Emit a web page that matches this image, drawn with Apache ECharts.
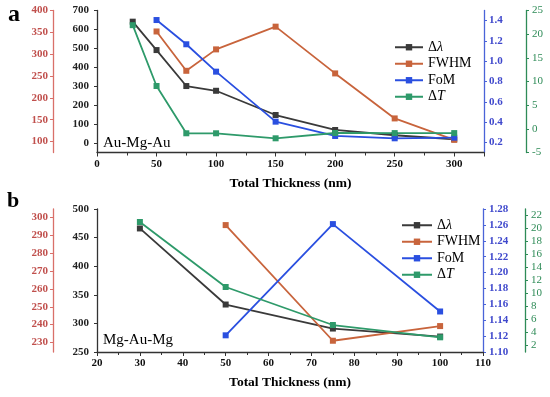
<!DOCTYPE html>
<html>
<head>
<meta charset="utf-8">
<script src="https://cdn.jsdelivr.net/npm/echarts@6/dist/echarts.min.js"></script>
<style>
html,body{margin:0;padding:0;background:#fff;}
#chart{width:550px;height:397px;}
</style>
</head>
<body>
<div id="chart"></div>
<script>
// ---- Data (panel a: Au-Mg-Au) ----
const thickA_all = [30, 50, 75, 100, 150, 200, 250, 300];
const thickA_sub = [50, 75, 100, 150, 200, 250, 300];
const dLambdaA = [641, 491, 301, 276, 148, 69, 41, 20];
const fwhmA = [352, 262, 311, 363, 256, 153, 104];
const fomA = [1.406, 1.167, 0.897, 0.404, 0.263, 0.24, 0.246];
const dTA = [21.9, 9.05, -0.94, -0.94, -2.0, -0.88, -0.9, -0.9];

// ---- Data (panel b: Mg-Au-Mg) ----
const thickB_all = [30, 50, 75, 100];
const thickB_sub = [50, 75, 100];
const dLambdaB = [466, 333, 291, 277];
const fwhmB = [295.7, 231, 239.2];
const fomB = [1.121, 1.261, 1.151];
const dTB = [21.0, 11.0, 5.15, 3.26];

// ---- Tick labels ----
const blackTicksA = [0, 100, 200, 300, 400, 500, 600, 700];
const redTicksA = [100, 150, 200, 250, 300, 350, 400];
const blueTicksA = [0.2, 0.4, 0.6, 0.8, 1.0, 1.2, 1.4];
const redTicksB = [230, 240, 250, 260, 270, 280, 290, 300];
const greenTicksB = [2, 4, 6, 8, 10, 12, 14, 16, 18, 20, 22];

const seriesNames = ['Δλ', 'FWHM', 'FoM', 'ΔT'];

const zip = (xs, ys) => xs.map((x, i) => [x, ys[i]]);

const FONT = 'Liberation Serif';
const C_BLACK = '#3a3a3a';
const C_RED = '#c8643c';
const C_BLUE = '#2a4fe0';
const C_GREEN = '#2e9a6a';
const L_RED = '#c0504d';
const L_BLUE = '#3f48cc';
const L_GREEN = '#2e8b57';

function yAx(opts) {
  const color = opts.color;
  const ax = {
    type: 'value',
    gridIndex: opts.grid,
    position: opts.position,
    offset: opts.offset || 0,
    min: opts.min,
    max: opts.max,
    splitLine: { show: false },
    axisLine: { show: true, onZero: false, lineStyle: { color: color, width: 1.3 } },
    axisTick: { show: true, inside: false, length: 3, lineStyle: { color: color, width: 1 } },
    axisLabel: {
      color: opts.labelColor || color,
      fontFamily: FONT,
      fontSize: 11,
      fontWeight: opts.bold === false ? 'normal' : 'bold',
      margin: opts.margin || 6,
      formatter: opts.formatter
    }
  };
  if (opts.interval !== undefined) ax.interval = opts.interval;
  if (opts.ticks) {
    ax.axisLabel.customValues = opts.ticks;
    ax.axisTick.customValues = opts.ticks;
  }
  return ax;
}

function xAx(grid, min, max, interval, hideMax) {
  return {
    type: 'value',
    gridIndex: grid,
    min: min, max: max, interval: interval,
    name: 'Total Thickness (nm)',
    nameLocation: 'middle',
    nameGap: 24,
    nameTextStyle: { fontFamily: FONT, fontSize: 13.5, fontWeight: 'bold', color: '#000' },
    splitLine: { show: false },
    axisLine: { show: true, onZero: false, lineStyle: { color: '#333', width: 1.3 } },
    axisTick: { show: true, length: 4, lineStyle: { color: '#333' } },
    minorTick: { show: true, splitNumber: 2, length: 3, lineStyle: { color: '#333' } },
    axisLabel: { color: '#111', fontFamily: FONT, fontSize: 11, fontWeight: 'bold', margin: 6,
      showMaxLabel: !hideMax }
  };
}

function lineSeries(name, xi, yi, data, color) {
  return {
    name: name, type: 'line', xAxisIndex: xi, yAxisIndex: yi, data: data,
    symbol: 'rect', symbolSize: 6, connectNulls: false,
    lineStyle: { color: color, width: 1.8 },
    itemStyle: { color: color },
    emphasis: { disabled: true },
    animation: false
  };
}

function legendFmt(name) {
  if (name === 'Δλ') return '{n|Δ}{i|λ}';
  if (name === 'ΔT') return '{n|Δ}{i|T}';
  return '{n|' + name + '}';
}
const legendRich = {
  n: { fontFamily: FONT, fontSize: 14, color: '#000' },
  i: { fontFamily: FONT, fontSize: 14, color: '#000', fontStyle: 'italic' }
};

const chart = echarts.init(document.getElementById('chart'), null, { renderer: 'canvas' });
chart.setOption({
  animation: false,
  backgroundColor: '#fff',
  grid: [
    { left: 97, top: 10.5, width: 387, height: 142 },
    { left: 97, top: 209, width: 386, height: 143 }
  ],
  xAxis: [ xAx(0, 0, 325, 50, true), xAx(1, 20, 110, 10, false) ],
  yAxis: [
    yAx({ grid: 0, position: 'left', offset: 0, min: -50, max: 700, ticks: blackTicksA, color: '#333', labelColor: '#222', margin: 8 }),
    yAx({ grid: 0, position: 'left', offset: 44, min: 75, max: 400, ticks: redTicksA, color: '#d9706a', labelColor: L_RED, margin: 5 }),
    yAx({ grid: 0, position: 'right', offset: 0, min: 0.1, max: 1.5, ticks: blueTicksA, color: '#4a63d8', labelColor: L_BLUE, margin: 5, formatter: v => v.toFixed(1) }),
    yAx({ grid: 0, position: 'right', offset: 42, min: -5, max: 25, interval: 5, color: L_GREEN, labelColor: L_GREEN, bold: false, margin: 6 }),
    yAx({ grid: 1, position: 'left', offset: 0, min: 250, max: 500, interval: 50, color: '#333', labelColor: '#222', margin: 8 }),
    yAx({ grid: 1, position: 'left', offset: 44, min: 224.7, max: 304.7, ticks: redTicksB, color: '#d9706a', labelColor: L_RED, margin: 5 }),
    yAx({ grid: 1, position: 'right', offset: 0, min: 1.10, max: 1.28, interval: 0.02, color: '#4a63d8', labelColor: L_BLUE, margin: 6, formatter: v => v.toFixed(2) }),
    yAx({ grid: 1, position: 'right', offset: 42, min: 1, max: 23, ticks: greenTicksB, color: L_GREEN, labelColor: L_GREEN, bold: false, margin: 6 })
  ],
  legend: [
    { data: seriesNames, orient: 'vertical', left: 389, top: 35, itemWidth: 28, itemHeight: 8, itemGap: 2,
      formatter: legendFmt, textStyle: { fontFamily: FONT, fontSize: 14, lineHeight: 14.5, rich: legendRich }, selectedMode: false },
    { data: seriesNames, orient: 'vertical', left: 396, top: 213, itemWidth: 30, itemHeight: 8, itemGap: 2,
      formatter: legendFmt, textStyle: { fontFamily: FONT, fontSize: 14, lineHeight: 14.5, rich: legendRich }, selectedMode: false }
  ],
  graphic: [
    { type: 'text', left: 8, top: 3, style: { text: 'a', font: 'bold 24px "Liberation Serif"', fill: '#000' } },
    { type: 'text', left: 7, top: 190, style: { text: 'b', font: 'bold 22px "Liberation Serif"', fill: '#000' } },
    { type: 'text', left: 103, top: 136, style: { text: 'Au-Mg-Au', font: '15px "Liberation Serif"', fill: '#000' } },
    { type: 'text', left: 103, top: 333, style: { text: 'Mg-Au-Mg', font: '15px "Liberation Serif"', fill: '#000' } }
  ],
  series: [
    lineSeries('Δλ', 0, 0, zip(thickA_all, dLambdaA), C_BLACK),
    lineSeries('FWHM', 0, 1, zip(thickA_sub, fwhmA), C_RED),
    lineSeries('FoM', 0, 2, zip(thickA_sub, fomA), C_BLUE),
    lineSeries('ΔT', 0, 3, zip(thickA_all, dTA), C_GREEN),
    lineSeries('Δλ', 1, 4, zip(thickB_all, dLambdaB), C_BLACK),
    lineSeries('FWHM', 1, 5, zip(thickB_sub, fwhmB), C_RED),
    lineSeries('FoM', 1, 6, zip(thickB_sub, fomB), C_BLUE),
    lineSeries('ΔT', 1, 7, zip(thickB_all, dTB), C_GREEN)
  ]
});
</script>
</body>
</html>
